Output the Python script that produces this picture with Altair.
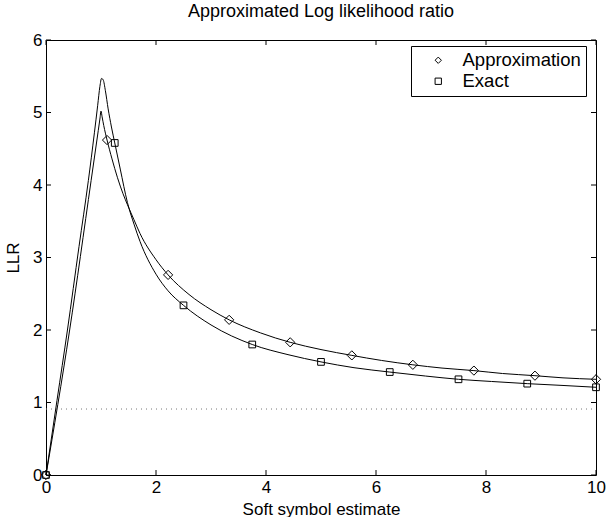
import altair as alt
import pandas as pd

# ---- data ----
series_names = ["Approximation", "Exact"]

approx_x = [0, 0.43, 0.82, 0.95, 0.98, 1.0, 1.02, 1.05, 1.11, 1.2, 1.3, 1.4, 1.48, 1.6, 1.71, 2.0, 2.22,
            2.6, 3.0, 3.33, 3.9, 4.44, 5.0, 5.56, 6.1, 6.67, 7.2, 7.78, 8.3, 8.89, 9.4, 10]
approx_y = [0, 2.0, 4.06, 4.75, 4.91, 5.02, 4.94, 4.82, 4.62, 4.36, 4.1, 3.88, 3.73, 3.52, 3.33, 2.97, 2.76,
            2.49, 2.28, 2.14, 1.96, 1.83, 1.73, 1.65, 1.58, 1.52, 1.475, 1.44, 1.40, 1.37, 1.34, 1.32]

exact_x = [0, 0.2, 0.39, 0.6, 0.77, 0.88, 0.94, 0.98, 1.01, 1.04, 1.08, 1.13, 1.19, 1.25, 1.35,
           1.48, 1.6, 1.71, 2.0, 2.22, 2.5, 3.0, 3.75, 4.4, 5.0, 5.6, 6.25, 6.9, 7.5, 8.1, 8.75, 9.4, 10]
exact_y = [0, 1.03, 2.0, 3.15, 4.06, 4.72, 5.1, 5.36, 5.47, 5.45, 5.3, 5.05, 4.8, 4.58, 4.22,
           3.76, 3.46, 3.22, 2.77, 2.54, 2.34, 2.07, 1.80, 1.66, 1.56, 1.48, 1.42, 1.365, 1.32, 1.29, 1.26, 1.235, 1.21]

approx_mx = [0, 1.11, 2.22, 3.33, 4.44, 5.56, 6.67, 7.78, 8.89, 10]
approx_my = [0, 4.62, 2.76, 2.14, 1.83, 1.65, 1.52, 1.44, 1.37, 1.32]
exact_mx = [0, 1.25, 2.5, 3.75, 5, 6.25, 7.5, 8.75, 10]
exact_my = [0, 4.58, 2.34, 1.80, 1.56, 1.42, 1.32, 1.26, 1.21]

threshold = [0.91]
x_ticks = [0, 2, 4, 6, 8, 10]
y_ticks = [0, 1, 2, 3, 4, 5, 6]

# ---- tables ----
approx_df = pd.DataFrame({"x": approx_x, "y": approx_y})
exact_df = pd.DataFrame({"x": exact_x, "y": exact_y})
approx_pts = pd.DataFrame({"x": approx_mx, "y": approx_my, "series": series_names[0]})
exact_pts = pd.DataFrame({"x": exact_mx, "y": exact_my, "series": series_names[1]})
thr_df = pd.DataFrame({"y": threshold})
xt_df = pd.DataFrame({"x": x_ticks})
yt_df = pd.DataFrame({"y": y_ticks})

W, H = 550, 435
FONT = "Liberation Sans"
TICK = 5

xs = alt.Scale(domain=[0, 10], nice=False, zero=False)
ys = alt.Scale(domain=[0, 6], nice=False, zero=False)

xax = alt.Axis(values=x_ticks, ticks=False, domain=False, grid=False, format="d",
               labelFontSize=17, labelFont=FONT, labelColor="black", labelPadding=4,
               labelFlush=False, title="Soft symbol estimate", titleFontSize=17,
               titleFont=FONT, titleFontWeight="normal", titleColor="black", titlePadding=6)
yax = alt.Axis(values=y_ticks, ticks=False, domain=False, grid=False, format="d",
               labelFontSize=17, labelFont=FONT, labelColor="black", labelPadding=4,
               labelFlush=False, title="LLR", titleFontSize=17, titleFont=FONT,
               titleFontWeight="normal", titleColor="black", titlePadding=10)

X = alt.X("x:Q", scale=xs, axis=xax)
Y = alt.Y("y:Q", scale=ys, axis=yax)

shape_scale = alt.Scale(domain=series_names, range=["diamond", "square"])
legend = alt.Legend(title=None, orient="none", legendX=365, legendY=6,
                    strokeColor="black", fillColor="white", padding=5,
                    labelFont=FONT, labelFontSize=18.5, labelColor="black",
                    symbolSize=40, symbolStrokeColor="black", symbolFillColor="white",
                    symbolStrokeWidth=1, symbolOffset=13, labelOffset=15, rowPadding=2)

dotted = alt.Chart(thr_df).mark_rule(color="#777777", strokeDash=[1, 4], strokeWidth=1).encode(
    y=Y, x=alt.value(0), x2=alt.value(W))

approx_line = alt.Chart(approx_df).mark_line(color="black", strokeWidth=1,
                                             interpolate="monotone").encode(x=X, y=Y)
exact_line = alt.Chart(exact_df).mark_line(color="black", strokeWidth=1,
                                           interpolate="monotone").encode(x=X, y=Y)

approx_marks = alt.Chart(approx_pts).mark_point(filled=False, color="black", strokeWidth=1,
                                                opacity=1, size=85).encode(
    x=X, y=Y, shape=alt.Shape("series:N", scale=shape_scale, legend=legend))
exact_marks = alt.Chart(exact_pts).mark_point(filled=False, color="black", strokeWidth=1,
                                              opacity=1, size=45).encode(
    x=X, y=Y, shape=alt.Shape("series:N", scale=shape_scale, legend=legend))

xticks_bottom = alt.Chart(xt_df).mark_rule(color="black").encode(
    x=X, y=alt.value(H), y2=alt.value(H - TICK))
xticks_top = alt.Chart(xt_df).mark_rule(color="black").encode(
    x=X, y=alt.value(0), y2=alt.value(TICK))
yticks_left = alt.Chart(yt_df).mark_rule(color="black").encode(
    y=Y, x=alt.value(0), x2=alt.value(TICK))
yticks_right = alt.Chart(yt_df).mark_rule(color="black").encode(
    y=Y, x=alt.value(W), x2=alt.value(W - TICK))

chart = alt.layer(
    dotted, approx_line, exact_line, approx_marks, exact_marks,
    xticks_bottom, xticks_top, yticks_left, yticks_right,
).resolve_legend(shape="shared").properties(
    width=W, height=H,
    title=alt.TitleParams("Approximated Log likelihood ratio", fontSize=18, font=FONT,
                          fontWeight="normal", color="black", anchor="middle", offset=10),
    autosize=alt.AutoSizeParams(type="none"),
    padding={"left": 46, "top": 40, "right": 13, "bottom": 42},
    background="white",
).configure_view(stroke="black", strokeWidth=1)

chart.save("out.html", embed_options={"renderer": "svg", "actions": False})
